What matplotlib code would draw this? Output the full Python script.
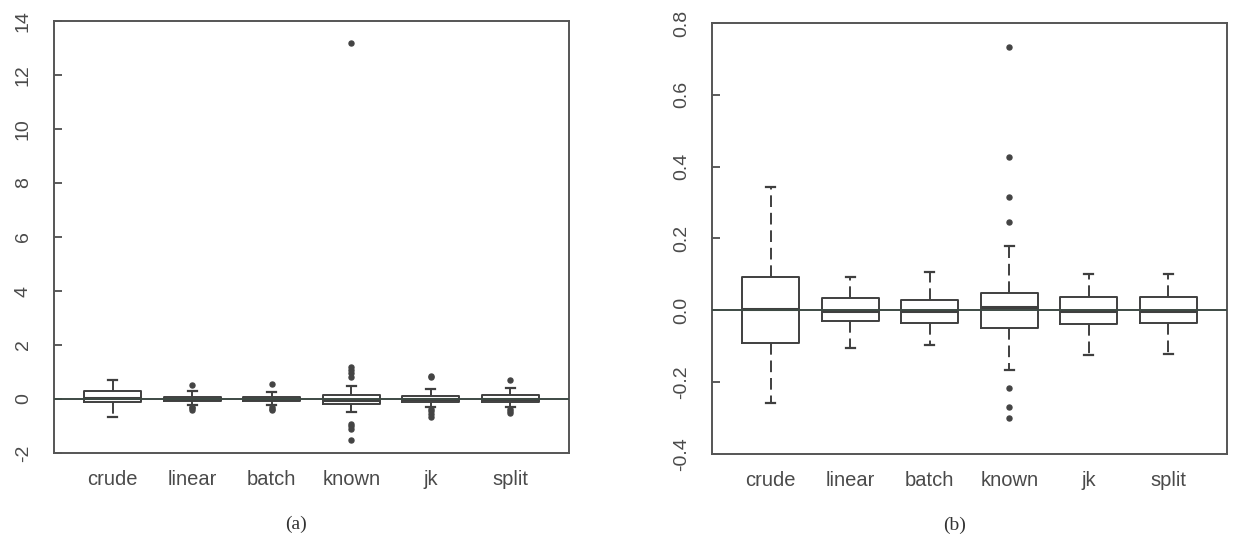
import matplotlib.pyplot as plt

# Method names (x categories)
methods = ["crude", "linear", "batch", "known", "jk", "split"]

# Panel (a): five-number summaries
a_whislo = [-0.68, -0.22, -0.22, -0.47, -0.28, -0.28]
a_q1 = [-0.12, -0.07, -0.07, -0.19, -0.11, -0.11]
a_med = [0.02, 0.00, 0.00, -0.02, 0.00, 0.00]
a_q3 = [0.29, 0.07, 0.07, 0.13, 0.10, 0.14]
a_whishi = [0.70, 0.28, 0.25, 0.49, 0.36, 0.39]
a_fliers = [
    [],
    [0.51, -0.28, -0.34, -0.40],
    [0.54, -0.30, -0.36, -0.42],
    [13.17, 1.19, 1.07, 0.95, 0.82, -0.92, -1.00, -1.10, -1.52],
    [0.85, 0.80, -0.36, -0.45, -0.55, -0.65],
    [0.70, -0.36, -0.45, -0.52],
]

# Panel (b)
b_whislo = [-0.259, -0.104, -0.096, -0.165, -0.124, -0.121]
b_q1 = [-0.090, -0.030, -0.034, -0.049, -0.038, -0.034]
b_med = [0.004, -0.001, -0.002, 0.008, -0.003, -0.002]
b_q3 = [0.093, 0.033, 0.030, 0.047, 0.038, 0.037]
b_whishi = [0.343, 0.093, 0.107, 0.179, 0.101, 0.101]
b_fliers = [
    [],
    [],
    [],
    [0.733, 0.428, 0.316, 0.246, -0.215, -0.269, -0.301],
    [],
    [],
]

a_yticks = [-2, 0, 2, 4, 6, 8, 10, 12, 14]
a_yticklabels = ["-2", "0", "2", "4", "6", "8", "10", "12", "14"]
b_yticks = [-0.4, -0.2, 0.0, 0.2, 0.4, 0.6, 0.8]
b_yticklabels = ["-0.4", "-0.2", "0.0", "0.2", "0.4", "0.6", "0.8"]

line_col = "#3f3f3f"
text_col = "#4a4a4a"
plt.rcParams["font.family"] = ["Liberation Sans", "DejaVu Sans"]


def make_stats(wlo, q1, med, q3, whi, fl):
    stats = []
    for i in range(len(methods)):
        stats.append({
            "label": methods[i],
            "whislo": wlo[i], "q1": q1[i], "med": med[i],
            "q3": q3[i], "whishi": whi[i], "fliers": fl[i],
        })
    return stats


def draw_panel(ax, stats, ylim, yticks, yticklabels, caption):
    ax.bxp(
        stats,
        positions=range(1, len(methods) + 1),
        widths=0.72,
        capwidths=0.11,
        boxprops=dict(color=line_col, linewidth=1.4),
        medianprops=dict(color=line_col, linewidth=2.2),
        whiskerprops=dict(color=line_col, linewidth=1.4, linestyle=(0, (6, 3))),
        capprops=dict(color=line_col, linewidth=1.6),
        flierprops=dict(marker="o", markersize=3.6, markerfacecolor="#444444",
                        markeredgecolor="#444444"),
    )
    ax.axhline(0, color="#3d4a44", linewidth=1.4, zorder=3)
    ax.set_xlim(0.26, 6.74)
    ax.set_ylim(*ylim)
    ax.set_yticks(yticks)
    ax.set_yticklabels(yticklabels, rotation=90, va="center")
    ax.tick_params(axis="y", direction="in", length=6, width=1.2,
                   color=line_col, labelcolor=text_col, labelsize=14, pad=16)
    ax.tick_params(axis="x", length=0, labelcolor=text_col, labelsize=14.5, pad=12)
    for sp in ax.spines.values():
        sp.set_color("#555555")
        sp.set_linewidth(1.4)
    ax.text(0.47, -0.165, caption, transform=ax.transAxes, ha="center", va="center",
            fontsize=14, family="Liberation Serif", color="#333333")


fig = plt.figure(figsize=(12.39, 5.42), dpi=100)
ax_a = fig.add_axes([0.0436, 0.1642, 0.4157, 0.7970])
ax_b = fig.add_axes([0.5747, 0.1624, 0.4157, 0.7952])

draw_panel(ax_a, make_stats(a_whislo, a_q1, a_med, a_q3, a_whishi, a_fliers),
           (-2, 14), a_yticks, a_yticklabels, "(a)")
draw_panel(ax_b, make_stats(b_whislo, b_q1, b_med, b_q3, b_whishi, b_fliers),
           (-0.4, 0.8), b_yticks, b_yticklabels, "(b)")

fig.savefig("out.png", dpi=100)
plt.close(fig)
